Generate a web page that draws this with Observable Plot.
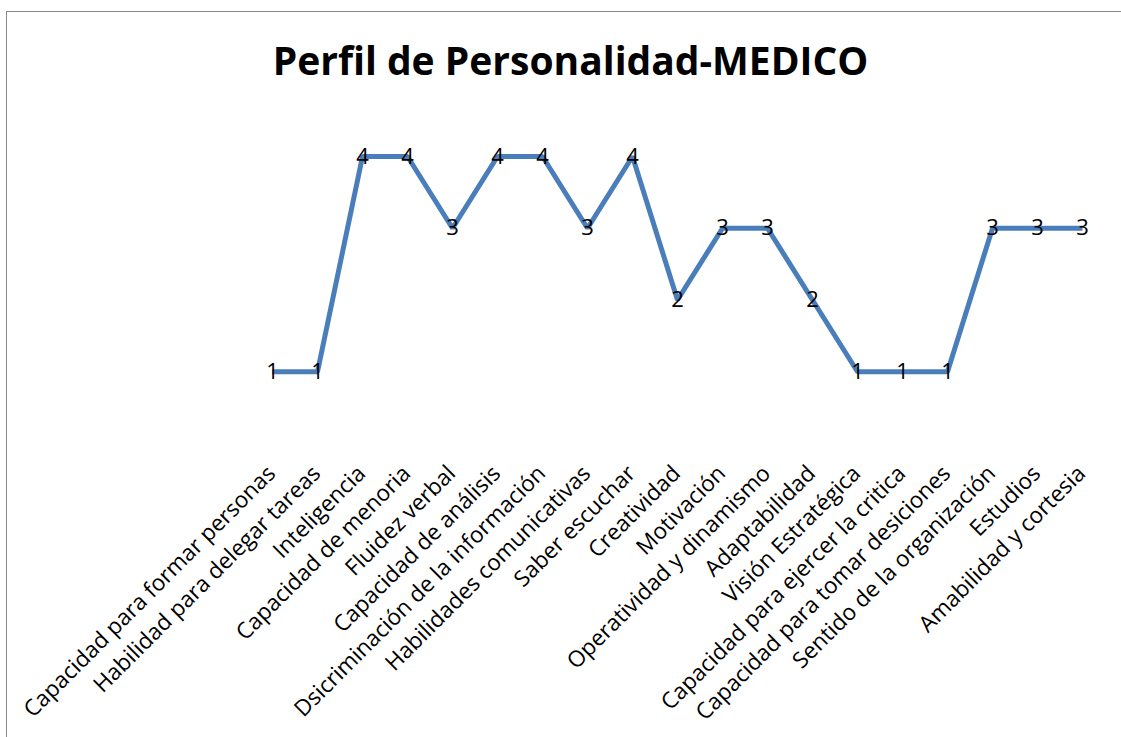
<!DOCTYPE html>
<html>
<head>
<meta charset="utf-8">
<script src="https://cdn.jsdelivr.net/npm/d3@7"></script>
<script src="https://cdn.jsdelivr.net/npm/@observablehq/plot@0.6"></script>
<style>
  html, body { margin: 0; padding: 0; background: #fff; width: 1121px; height: 737px; overflow: hidden; }
  #frame { position: absolute; left: 6px; top: 11px; width: 1300px; height: 900px; border: 1.5px solid #8a8a8a; box-sizing: border-box; pointer-events: none; }
  #title { position: relative; height: 100px; width: 1121px; font-family: "Open Sans", sans-serif; font-weight: bold; font-size: 39px; color: #000; text-align: center; box-sizing: border-box; padding-left: 20px; padding-top: 40px; line-height: 40px; }
  #chart { position: relative; }
</style>
</head>
<body>
<div id="frame"></div>
<div id="title">Perfil de Personalidad-MEDICO</div>
<div id="chart"></div>
<script>
const categories = [
  "Capacidad para formar personas",
  "Habilidad para delegar tareas",
  "Inteligencia",
  "Capacidad de menoria",
  "Fluidez verbal",
  "Capacidad de análisis",
  "Dsicriminación de la información",
  "Habilidades comunicativas",
  "Saber escuchar",
  "Creatividad",
  "Motivación",
  "Operatividad y dinamismo",
  "Adaptabilidad",
  "Visión Estratégica",
  "Capacidad para ejercer la critica",
  "Capacidad para tomar desiciones",
  "Sentido de la organización",
  "Estudios",
  "Amabilidad y cortesia"
];
const values = [1, 1, 4, 4, 3, 4, 4, 3, 4, 2, 3, 3, 2, 1, 1, 1, 3, 3, 3];

const data = categories.map((c, i) => ({category: c, value: values[i]}));

const chart = Plot.plot({
  width: 1121,
  height: 637,
  marginLeft: 270,
  marginRight: 37,
  marginTop: 56,
  marginBottom: 294,
  style: {fontFamily: "Open Sans, sans-serif", background: "transparent", overflow: "visible"},
  x: {type: "point", domain: categories, padding: 0, axis: null},
  y: {domain: [0, 4], axis: null},
  marks: [
    Plot.line(data, {x: "category", y: "value", stroke: "#4a7ebb", strokeWidth: 5, strokeLinejoin: "miter", strokeLinecap: "butt"}),
    Plot.text(data, {x: "category", y: "value", text: d => String(d.value), fontSize: 22, fill: "#000", lineAnchor: "middle"}),
    Plot.text(categories, {x: d => d, frameAnchor: "bottom", rotate: -45, textAnchor: "end", lineAnchor: "top", dx: -7, dy: 20, fontSize: 22.5, fill: "#000"})
  ]
});
document.getElementById("chart").appendChild(chart);
</script>
</body>
</html>
